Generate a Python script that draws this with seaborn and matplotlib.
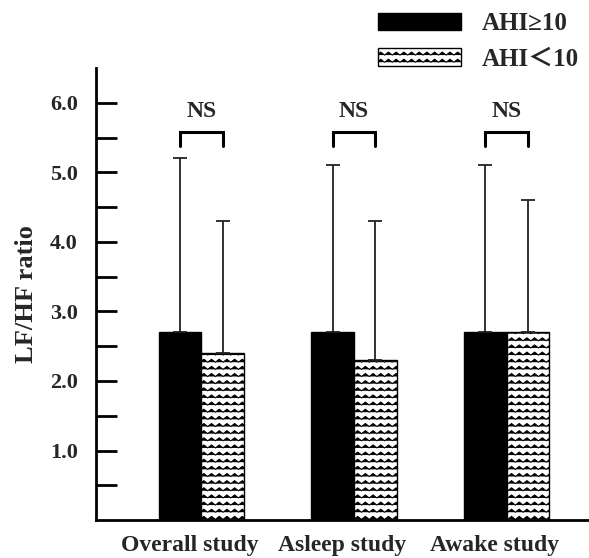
import numpy as np
import matplotlib
matplotlib.use('Agg')
import matplotlib.pyplot as plt
import matplotlib.hatch as mhatch
import matplotlib.transforms as mtrans
from matplotlib.path import Path
import pandas as pd
import seaborn as sns

studies = ["Overall study", "Asleep study", "Awake study"]
groups = ["AHI≥10", "AHI＜10"]
mean_high = [2.7, 2.7, 2.7]
mean_low = [2.4, 2.3, 2.7]
upper_high = [5.2, 5.1, 5.1]
upper_low = [4.3, 4.3, 4.6]
y_ticks = [0.5, 1.0, 1.5, 2.0, 2.5, 3.0, 3.5, 4.0, 4.5, 5.0, 5.5, 6.0]
y_labels = ["", "1.0", "", "2.0", "", "3.0", "", "4.0", "", "5.0", "", "6.0"]


# zigzag hatch in place of the plain horizontal one
class ZigZagHatch(mhatch.HatchPatternBase):
    def __init__(self, hatch, density):
        self.num_lines = 14 if '-' in hatch else 0
        self.num_peaks = 13
        self.num_vertices = self.num_lines * (2 * self.num_peaks + 1)

    def set_vertices_and_codes(self, vertices, codes):
        n = 2 * self.num_peaks + 1
        xs = np.linspace(0, 1, n)
        amp = 0.015
        for i in range(self.num_lines):
            y0 = (i + 0.5) / self.num_lines
            ys = y0 + amp * np.where(np.arange(n) % 2 == 0, -1, 1)
            vertices[i * n:(i + 1) * n, 0] = xs
            vertices[i * n:(i + 1) * n, 1] = ys
            codes[i * n] = Path.MOVETO
            codes[i * n + 1:(i + 1) * n] = Path.LINETO


mhatch._hatch_types[0] = ZigZagHatch

sns.set_style("white")
plt.rcParams['font.family'] = ['Liberation Serif', 'Noto Sans CJK SC', 'DejaVu Sans']
plt.rcParams['font.weight'] = 'bold'
plt.rcParams['hatch.linewidth'] = 0.75

df = pd.DataFrame({
    "study": studies * 2,
    "group": [groups[0]] * 3 + [groups[1]] * 3,
    "value": mean_high + mean_low,
})

fig = plt.figure(figsize=(5.89, 5.58), dpi=100)
ax = fig.add_axes([0.163, 0.068, 0.837, 0.81])

sns.barplot(data=df, x="study", y="value", hue="group", order=studies,
            hue_order=groups, palette=["black", "white"], saturation=1,
            width=0.56, edgecolor="black", linewidth=1.0, legend=False, ax=ax)

bar_conts = list(ax.containers[:2])
for bar in bar_conts[1]:
    bar.set_hatch('-')

uppers = [upper_high, upper_low]
for k, cont in enumerate(bar_conts):
    xs = [b.get_x() + b.get_width() / 2 for b in cont]
    means = [b.get_height() for b in cont]
    err = np.array(uppers[k]) - np.array(means)
    ax.errorbar(xs, means, yerr=[np.zeros(3), err], fmt='none',
                ecolor='#222222', elinewidth=1.3, capsize=5, capthick=1.3,
                zorder=1)

# NS brackets
for i in range(3):
    x1 = bar_conts[0][i].get_x() + bar_conts[0][i].get_width() / 2
    x2 = bar_conts[1][i].get_x() + bar_conts[1][i].get_width() / 2
    ax.plot([x1, x1, x2, x2], [5.38, 5.58, 5.58, 5.38], color='black',
            lw=2.2, solid_joinstyle='miter', clip_on=False)
    ax.text((x1 + x2) / 2, 5.72, "NS", ha='center', va='bottom',
            fontsize=17, fontweight='bold')

ax.set_xlim(-0.69, 2.54)
ax.set_ylim(0, 6.5)
ax.set_yticks(y_ticks)
ax.set_yticklabels(y_labels, fontsize=16, fontweight='bold')
ax.tick_params(axis='y', left=True, direction='in', length=15, width=2,
               pad=13, color='black')
ax.tick_params(axis='x', bottom=False, length=0, pad=11, labelsize=17)
shift = mtrans.ScaledTranslation(-12 / 100, 0, fig.dpi_scale_trans)
for lab in ax.get_xticklabels():
    lab.set_fontweight('bold')
    lab.set_transform(lab.get_transform() + shift)
ax.set_xlabel("")
ax.set_ylabel("LF/HF ratio", fontsize=19, fontweight='bold', labelpad=9)

for s in ['top', 'right']:
    ax.spines[s].set_visible(False)
for s in ['left', 'bottom']:
    ax.spines[s].set_linewidth(2)
    ax.spines[s].set_color('black')

handles = [bar_conts[0][0], bar_conts[1][0]]
fig.legend(handles, groups, loc='upper left', bbox_to_anchor=(0.642, 0.978),
           frameon=False, handlelength=3.3, handleheight=0.7,
           handletextpad=0.85, labelspacing=0.5, borderpad=0, borderaxespad=0,
           prop={'weight': 'bold', 'size': 18})

plt.savefig('out.png', dpi=100)
